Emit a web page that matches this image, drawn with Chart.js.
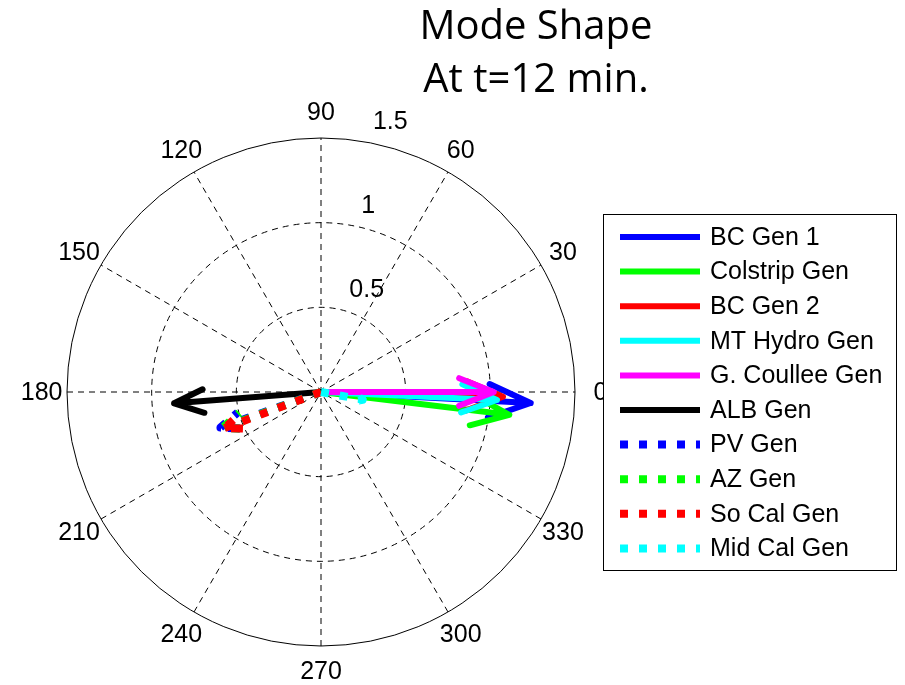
<!DOCTYPE html>
<html>
<head>
<meta charset="utf-8">
<script src="https://cdn.jsdelivr.net/npm/chart.js@4"></script>
<style>
  body { margin: 0; background: #fff; }
  canvas { display: block; }
</style>
</head>
<body>
<canvas id="compass" width="905" height="685"></canvas>
<script>
// generators, as in the legend
var genNames = ['BC Gen 1', 'Colstrip Gen', 'BC Gen 2', 'MT Hydro Gen', 'G. Coullee Gen',
                'ALB Gen', 'PV Gen', 'AZ Gen', 'So Cal Gen', 'Mid Cal Gen'];
// mode shape magnitude and angle (deg)
var magnitudes = [1.24, 1.12, 1.075, 1.04, 1.02, 0.87, 0.63, 0.62, 0.61, 0.25];
var anglesDeg  = [-3.0, -6.9, -1.5, -2.6, 0.0, 184.4, 199.5, 200.0, 200.5, -10.5];
var lineColors = ['#0000ff', '#00ff00', '#ff0000', '#00ffff', '#ff00ff', '#000000',
                  '#0000ff', '#00ff00', '#ff0000', '#00ffff'];
var isDotted   = [false, false, false, false, false, false, true, true, true, true];

var angleTicks  = [0, 30, 60, 90, 120, 150, 180, 210, 240, 270, 300, 330];
var radiusTicks = [0.5, 1, 1.5];
var titleLines  = ['Mode Shape', 'At t=12 min.'];

var rMax = radiusTicks[radiusTicks.length - 1];
var tickFont = '25px "Liberation Sans", Arial, sans-serif';

// matlab compass arrow: shaft + two barbs, in data units
function compassArrow(mag, deg) {
    var a = deg * Math.PI / 180;
    var c = Math.cos(a), s = Math.sin(a);
    var xx = [0, 1, 0.8, 1, 0.8];
    var yy = [0, 0, 0.08, 0, -0.08];
    return xx.map(function (u, i) {
        var v = yy[i];
        return { x: mag * (u * c - v * s), y: mag * (u * s + v * c) };
    });
}

var datasets = genNames.map(function (name, i) {
    return {
        label: name,
        data: compassArrow(magnitudes[i], anglesDeg[i]),
        showLine: true,
        borderColor: lineColors[i],
        backgroundColor: lineColors[i],
        borderWidth: isDotted[i] ? 8 : 6,
        borderDash: isDotted[i] ? [8, 11] : [],
        borderCapStyle: isDotted[i] ? 'butt' : 'round',
        borderJoinStyle: 'round',
        pointRadius: 0,
        order: genNames.length - i   // later series on top, like matlab
    };
});

var polarGrid = {
    id: 'polarGrid',
    beforeDatasetsDraw: function (chart) {
        var ctx = chart.ctx;
        var xs = chart.scales.x, ys = chart.scales.y;
        var cx = xs.getPixelForValue(0), cy = ys.getPixelForValue(0);
        var unit = xs.getPixelForValue(1) - cx;

        ctx.save();
        ctx.strokeStyle = '#000';
        ctx.lineWidth = 1;

        // spokes
        ctx.setLineDash([6, 5]);
        angleTicks.forEach(function (t) {
            if (t >= 180) return;
            var a = t * Math.PI / 180;
            ctx.beginPath();
            ctx.moveTo(cx - rMax * unit * Math.cos(a), cy + rMax * unit * Math.sin(a));
            ctx.lineTo(cx + rMax * unit * Math.cos(a), cy - rMax * unit * Math.sin(a));
            ctx.stroke();
        });
        // rings
        radiusTicks.forEach(function (r) {
            ctx.setLineDash(r === rMax ? [] : [6, 5]);
            ctx.beginPath();
            ctx.arc(cx, cy, r * unit, 0, Math.PI * 2);
            ctx.stroke();
        });
        ctx.setLineDash([]);

        // angle labels
        ctx.fillStyle = '#000';
        ctx.font = tickFont;
        ctx.textAlign = 'center';
        ctx.textBaseline = 'middle';
        angleTicks.forEach(function (t) {
            var a = t * Math.PI / 180;
            ctx.fillText(String(t), cx + 1.1 * rMax * unit * Math.cos(a),
                         cy - 1.1 * rMax * unit * Math.sin(a) + 1);
        });
        // radius labels at 82 deg
        ctx.textAlign = 'left';
        ctx.textBaseline = 'alphabetic';
        var a82 = 82 * Math.PI / 180;
        radiusTicks.forEach(function (r) {
            var rr = (r + rMax / 60) * unit;
            ctx.fillText(String(r), cx + rr * Math.cos(a82) + 16, cy - rr * Math.sin(a82) - 7);
        });
        ctx.restore();
    },
    afterDraw: function (chart) {
        var ctx = chart.ctx;
        ctx.save();

        // title
        ctx.fillStyle = '#000';
        ctx.font = '40px "Open Sans", sans-serif';
        ctx.textAlign = 'center';
        ctx.textBaseline = 'alphabetic';
        ctx.fillText(titleLines[0], 536, 39);
        ctx.fillText(titleLines[1], 536, 92);

        // legend box
        var bx = 603, by = 214, bw = 293, bh = 356;
        ctx.fillStyle = '#fff';
        ctx.fillRect(bx, by, bw, bh);
        ctx.strokeStyle = '#000';
        ctx.lineWidth = 1;
        ctx.strokeRect(bx + 0.5, by + 0.5, bw, bh);

        ctx.font = tickFont;
        ctx.textAlign = 'left';
        ctx.textBaseline = 'middle';
        chart.data.datasets.forEach(function (ds, i) {
            var y = 237 + i * 34.6;
            ctx.beginPath();
            ctx.strokeStyle = ds.borderColor;
            ctx.lineWidth = ds.borderWidth;
            ctx.setLineDash(ds.borderDash);
            ctx.lineCap = 'butt';
            ctx.moveTo(620, y);
            ctx.lineTo(700, y);
            ctx.stroke();
            ctx.setLineDash([]);
            ctx.fillStyle = '#000';
            ctx.fillText(ds.label, 710, y + 1);
        });
        ctx.restore();
    }
};

new Chart(document.getElementById('compass').getContext('2d'), {
    type: 'scatter',
    data: { datasets: datasets },
    options: {
        responsive: false,
        animation: false,
        events: [],
        layout: { padding: { left: 67, right: 330, top: 138, bottom: 39 } },
        scales: {
            x: { type: 'linear', min: -rMax, max: rMax, display: false },
            y: { type: 'linear', min: -rMax, max: rMax, display: false }
        },
        plugins: {
            legend: { display: false },
            tooltip: { enabled: false },
            title: { display: false }
        }
    },
    plugins: [polarGrid]
});
</script>
</body>
</html>
